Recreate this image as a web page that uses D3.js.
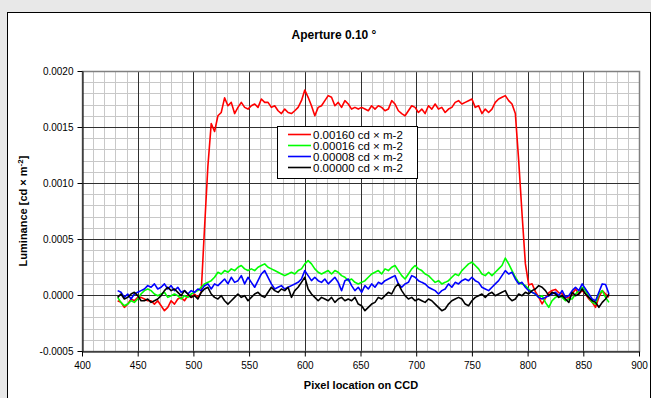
<!DOCTYPE html>
<html>
<head>
<meta charset="utf-8">
<script src="https://cdn.jsdelivr.net/npm/d3@7/dist/d3.min.js"></script>
<style>
  body { margin:0; background:#e8e8e8; }
  svg { display:block; font-family: Arial, "Liberation Sans", sans-serif; }
</style>
</head>
<body>
<svg id="chart" width="651" height="398"></svg>
<script>
// pixel sample positions on the CCD (every 3rd pixel)
const pixels = d3.range(432, 874, 3)

// luminance readings, in units of 1e-4 cd x m-2
const red = [-0.51,-0.66,-1.10,-0.81,-0.36,-0.51,-0.21,-0.21,-0.36,-0.51,-0.51,-0.81,-0.51,-0.96,-1.40,-1.10,-0.51,-0.81,-0.36,-0.21,-0.51,-0.06,-0.21,0.09,-0.21,0.24,
  6.0,11.5,15.3,14.6,16.0,16.3,17.6,
  16.9,17.2,16.2,16.75,17.2,16.75,16.6,16.9,17.05,16.75,17.5,17.2,17.2,16.75,16.9,16.45,16.2,16.6,16.3,16.2,16.45,16.75,17.35,18.3,17.65,16.9,16.0,16.75,16.9,17.35,17.8,17.65,16.9,17.2,16.75,17.35,17.05,16.6,16.75,16.6,16.75,16.6,16.45,16.9,16.6,16.9,16.75,16.45,16.6,
  17.35,17.05,16.45,16.2,16.0,16.45,16.9,16.75,16.3,16.6,16.2,16.9,16.6,17.05,16.6,16.75,16.3,16.6,16.75,17.2,17.35,17.05,17.2,17.35,17.5,16.75,16.9,16.2,16.6,16.3,16.6,17.2,17.5,17.65,17.8,17.35,17.05,16.2,
  12.0,7.25,2.8,
  0.9,1.0,0.3,-0.2,-0.8,-0.3,0.2,0.4,0.5,0.2,0.1,-0.2,-0.3,
  0.09,0.54,0.09,0.39,0.09,-0.36,-0.66,-1.10,-0.2,0.39,0.09,-0.2]

const green = [-0.21,-0.66,-0.96,-0.81,-0.51,-0.66,-0.36,0.09,0.39,0.54,0.39,0.09,-0.06,0.09,0.24,-0.21,-0.06,0.09,-0.06,-0.36,-0.06,-0.21,0.09,0.24,0.39,0.69,0.99,1.13,1.28,1.58,2.03,1.88,2.18,2.03,2.33,2.18,2.48,2.63,2.33,2.18,2.33,2.18,2.48,2.63,2.78,2.48,2.33,2.18,2.03,1.88,1.73,1.88,2.03,1.88,2.18,2.33,2.78,3.07,2.78,2.33,2.03,1.88,2.03,2.18,1.88,2.18,2.03,1.73,
  1.58,1.28,1.43,1.13,0.99,1.13,1.28,1.58,1.88,2.03,2.18,1.88,2.33,2.18,2.48,2.63,2.18,1.73,1.43,1.88,2.33,2.63,2.33,2.18,1.88,1.73,1.43,1.13,1.28,0.99,1.13,1.28,1.58,1.88,1.73,2.18,2.48,2.78,2.93,2.63,2.33,1.88,1.73,2.03,1.73,2.03,2.33,2.63,3.30,2.78,2.18,1.58,1.13,0.99,0.84,0.54,0.24,0.09,-0.21,-0.06,-0.66,-1.10,-0.51,-0.21,-0.06,-0.21,-0.51,-0.36,
  -0.36,0.09,0.39,0.69,0.39,-0.21,-0.66,-0.81,0.09,0.39,-0.21,-0.66]

const blue = [0.39,0.24,-0.21,0.09,-0.36,0.09,0.24,0.39,0.54,0.84,0.69,0.99,0.54,0.69,0.99,0.54,0.84,0.39,0.69,0.24,0.39,0.09,0.39,0.24,0.54,0.39,0.84,0.99,0.54,0.99,0.84,1.13,1.43,0.99,1.58,1.13,1.28,1.73,0.99,1.58,1.13,0.69,1.28,1.88,2.18,1.58,0.99,0.54,0.69,0.84,0.54,0.69,0.84,0.99,1.13,1.43,2.18,1.73,1.28,1.58,1.28,1.13,1.43,0.99,1.28,1.58,1.13,0.39,
  1.28,1.43,0.84,0.39,0.69,0.24,0.84,0.54,0.99,0.69,1.13,0.99,1.28,1.43,1.58,1.73,0.99,0.69,0.99,1.13,1.73,1.58,1.28,1.13,0.99,0.69,0.54,0.39,0.09,0.39,0.54,0.99,0.69,1.13,0.99,1.28,1.43,1.28,1.58,1.28,1.13,0.69,0.54,0.39,0.69,0.99,1.28,1.73,2.18,1.88,2.03,1.43,0.99,1.13,0.69,0.39,0.24,0.09,-0.21,-0.36,-0.21,-0.06,0.09,0.24,-0.06,0.39,-0.21,-0.06,
  0.39,0.69,0.39,0.99,0.54,0.09,-0.36,-0.51,0.24,0.99,0.93,0.09]

const black = [-0.21,0.09,-0.36,-0.21,0.09,0.24,-0.06,-0.51,-0.51,-0.36,-0.66,-0.51,-0.36,-0.06,0.39,0.69,0.39,0.54,0.24,-0.06,0.39,0.09,-0.21,-0.06,-0.36,0.24,0.54,0.69,0.09,-0.21,-0.36,-0.06,-0.51,-0.81,-0.51,-0.21,0.09,-0.21,-0.06,-0.51,-0.21,0.09,0.24,-0.06,-0.21,0.24,0.69,0.39,0.24,0.54,0.39,0.69,-0.21,0.39,0.69,1.13,1.58,0.54,0.09,-0.21,-0.51,-0.21,-0.36,-0.51,-0.21,-0.66,-0.36,-0.21,
  -0.51,-0.36,-0.51,-0.21,-0.81,-0.96,-1.40,-1.10,-0.81,-0.66,-0.21,-0.36,-0.06,0.24,0.09,0.69,0.99,0.39,-0.06,-0.36,-0.21,-0.51,-0.36,-0.51,-0.66,-0.36,-0.51,-0.81,-1.10,-1.40,-1.25,-0.81,-0.51,-0.36,-0.21,-0.36,-0.81,-0.96,-0.51,-0.21,-0.06,0.09,-0.21,0.09,0.24,-0.06,0.09,0.24,0.39,-0.21,-0.51,-0.36,0.09,-0.06,0.24,0.09,0.39,0.54,0.84,0.69,0.39,-0.06,0.24,0.09,-0.21,-0.06,-0.36,-0.66,
  0.24,-0.06,0.09,0.54,0.09,-0.21,-0.51,-0.66,-1.10,-0.66,-0.36,0.09]

const seriesNames = ["0.00160 cd × m-2","0.00016 cd × m-2","0.00008 cd × m-2","0.00000 cd × m-2"]
const seriesColors = ["#ff0000","#00ff00","#0000ff","#000000"]
const xTicks = d3.range(400, 901, 50)
const yTicks = [-0.0005, 0.0000, 0.0005, 0.0010, 0.0015, 0.0020]

var svg = d3.select("#chart")

// chart area
svg.append("rect").attr("x",7.5).attr("y",12.5).attr("width",643).attr("height",400)
  .attr("fill","white").attr("stroke","black").attr("stroke-width",1)

var x = d3.scaleLinear().domain([400,900]).range([82,639])
var y = d3.scaleLinear().domain([-0.0005,0.0020]).range([351,71])

var grid = svg.append("g")
// minor grid
grid.selectAll(".vminor").data(d3.range(400,901,10)).enter().append("line")
  .attr("x1",d=>Math.round(x(d))+0.5).attr("x2",d=>Math.round(x(d))+0.5).attr("y1",y(0.0020)).attr("y2",y(-0.0005))
  .attr("stroke","#c8c8c8").attr("stroke-width",1)
grid.selectAll(".hminor").data(d3.range(-5,21,1).map(d=>d*0.0001)).enter().append("line")
  .attr("y1",d=>Math.round(y(d))+0.5).attr("y2",d=>Math.round(y(d))+0.5).attr("x1",x(400)).attr("x2",x(900))
  .attr("stroke","#c8c8c8").attr("stroke-width",1)
// major grid
grid.selectAll(".vmajor").data(xTicks).enter().append("line")
  .attr("x1",d=>Math.round(x(d))+0.5).attr("x2",d=>Math.round(x(d))+0.5).attr("y1",y(0.0020)).attr("y2",y(-0.0005))
  .attr("stroke","#303030").attr("stroke-width",1)
grid.selectAll(".hmajor").data(yTicks).enter().append("line")
  .attr("y1",d=>Math.round(y(d))+0.5).attr("y2",d=>Math.round(y(d))+0.5).attr("x1",x(400)).attr("x2",x(900))
  .attr("stroke","#303030").attr("stroke-width",1)

// plot border
svg.append("rect").attr("x",x(400)+0.5).attr("y",y(0.0020)+0.5)
  .attr("width",x(900)-x(400)).attr("height",y(-0.0005)-y(0.0020))
  .attr("fill","none").attr("stroke","#808080").attr("stroke-width",1.5)

// axes
var yAxis = svg.append("g").attr("transform","translate("+(x(400)+0.5)+",0)")
  .call(d3.axisLeft(y).tickValues(yTicks).tickSize(5).tickSizeOuter(0).tickPadding(4).tickFormat(d=>d.toFixed(4)))
var xAxis = svg.append("g").attr("transform","translate(0,"+(y(-0.0005)+0.5)+")")
  .call(d3.axisBottom(x).tickValues(xTicks).tickSize(5).tickSizeOuter(0).tickPadding(5).tickFormat(d3.format("d")))
svg.selectAll(".tick text").attr("font-size",10).attr("font-family","Arial, 'Liberation Sans', sans-serif").attr("fill","#000")
svg.selectAll(".domain, .tick line").attr("stroke","#000")

// lines
var allSeries = [red, green, blue, black]
var line = d3.line().x((d,i)=>x(pixels[i])).y(d=>y(d*1e-4))
allSeries.forEach(function(s,i){
  svg.append("path").datum(s).attr("d",line).attr("fill","none")
    .attr("stroke",seriesColors[i]).attr("stroke-width",1.6).attr("stroke-linejoin","round")
})

// titles
svg.append("text").attr("x",334).attr("y",39).attr("text-anchor","middle")
  .attr("font-size",12).attr("font-weight","bold").text("Aperture 0.10 °")
svg.append("text").attr("x",361).attr("y",389).attr("text-anchor","middle")
  .attr("font-size",11).attr("font-weight","bold").text("Pixel location on CCD")
var yl = svg.append("text").attr("transform","translate(27,211) rotate(-90)").attr("text-anchor","middle")
  .attr("font-size",11).attr("font-weight","bold")
yl.append("tspan").text("Luminance [cd × m")
yl.append("tspan").attr("dy",-4).attr("font-size",8).text("-2")
yl.append("tspan").attr("dy",4).text("]")

// legend
var lg = svg.append("g").attr("transform","translate(277,126)")
lg.append("rect").attr("x",0.5).attr("y",0.5).attr("width",140).attr("height",52)
  .attr("fill","white").attr("stroke","black").attr("stroke-width",1)
seriesNames.forEach(function(n,i){
  var yy = 8.5 + i*11
  lg.append("line").attr("x1",11).attr("x2",34).attr("y1",yy).attr("y2",yy)
    .attr("stroke",seriesColors[i]).attr("stroke-width",1.6)
  lg.append("text").attr("x",36).attr("y",yy+4).attr("font-size",11.5).text(n)
})
</script>
</body>
</html>
